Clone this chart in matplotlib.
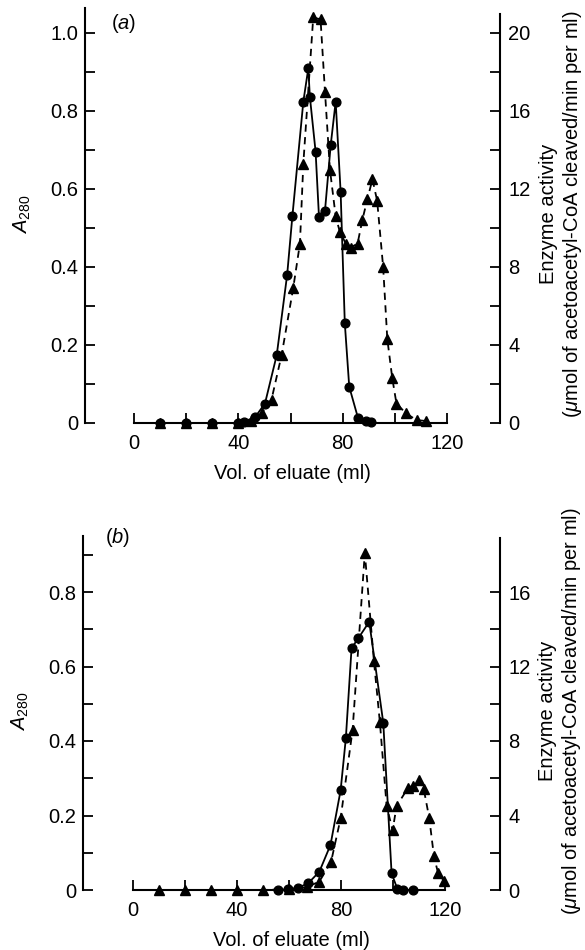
import numpy as np
import matplotlib
matplotlib.use("Agg")
import matplotlib.pyplot as plt

plt.rcParams['font.family'] = ['Liberation Sans', 'DejaVu Sans']
plt.rcParams['mathtext.fontset'] = 'custom'
plt.rcParams['mathtext.rm'] = 'Liberation Sans'
plt.rcParams['mathtext.it'] = 'Liberation Sans:italic'

FS = 14.5

# panel (a): A280 (circles, solid)
a_circ_x = [10, 20, 30, 40, 42, 46.4, 50.2, 54.7, 58.7, 60.7, 64.9, 66.8, 67.4, 69.6, 70.9,
            73.2, 75.4, 77.3, 79.2, 80.8, 82.5, 85.9, 88.9, 91]
a_circ_y = [0.0, 0.0, 0.0, 0.0, 0.003, 0.015, 0.05, 0.174, 0.38, 0.53, 0.824, 0.909, 0.837,
            0.696, 0.529, 0.544, 0.713, 0.824, 0.593, 0.256, 0.093, 0.012, 0.004, 0.003]
# panel (a): enzyme activity (triangles, dashed)
a_tri_x = [10, 20, 30, 40, 45, 48.9, 52.7, 56.6, 61.0, 63.6, 64.9, 68.7, 71.5, 73.2, 75.1,
           77.3, 78.9, 81.2, 83.0, 85.7, 87.5, 89.5, 91.4, 93.2, 95.5, 97.1, 99.0, 100.6,
           104.2, 108.3, 112.1]
a_tri_y = [0.0, 0.0, 0.0, 0.0, 0.1, 0.5, 1.2, 3.5, 6.9, 9.2, 13.3, 20.8, 20.7, 17.0, 13.0,
           10.6, 9.8, 9.2, 9.0, 9.2, 10.4, 11.5, 12.5, 11.4, 8.0, 4.3, 2.3, 1.0, 0.5, 0.15, 0.1]

# panel (b)
b_circ_x = [55.8, 59.6, 63.5, 67.4, 71.7, 76.0, 79.9, 81.9, 84.1, 86.7, 90.9, 96.3, 99.5,
            101.7, 104, 107.6]
b_circ_y = [0.0, 0.002, 0.006, 0.018, 0.049, 0.121, 0.268, 0.407, 0.649, 0.676, 0.720,
            0.449, 0.045, 0.003, 0.0, 0.0]
b_tri_x = [10, 20, 30, 40, 50, 60, 66.8, 71.7, 76.2, 79.9, 84.5, 89.2, 92.7, 95.0, 97.6,
           99.9, 101.4, 105.9, 107.8, 110, 111.9, 114, 115.8, 117.4, 119.6]
b_tri_y = [0.0, 0.0, 0.0, 0.0, 0.0, 0.05, 0.15, 0.45, 1.5, 3.85, 8.6, 18.1, 12.3, 9.0, 4.5,
           3.2, 4.5, 5.5, 5.6, 5.9, 5.4, 3.85, 1.8, 0.9, 0.5]

xlabel = "Vol. of eluate (ml)"
rlabel1 = "Enzyme activity"
rlabel2 = r"($\mu$mol of acetoacetyl-CoA cleaved/min per ml)"

fig = plt.figure(figsize=(5.85, 9.5), dpi=100)


def panel(rect, xlim, ylim, ylim2, lbound, rbound, lticks, lmajor, rmajor, tag, tagpos,
          cx, cy, tx, ty, rl_x):
    ax = fig.add_axes(rect)
    ax.plot(cx, cy, '-', color='black', lw=1.3, marker='o', ms=6.3, clip_on=False, zorder=3)
    ax.set_xlim(*xlim)
    ax.set_ylim(*ylim)
    ax2 = ax.twinx()
    ax2.plot(tx, ty, '--', color='black', lw=1.3, marker='^', ms=6.8, dashes=(4, 3),
             clip_on=False, zorder=3)
    ax2.set_ylim(*ylim2)

    for s in ['top', 'right']:
        ax.spines[s].set_visible(False)
    for s in ['top', 'left', 'bottom']:
        ax2.spines[s].set_visible(False)
    ax.spines['bottom'].set_bounds(0, 120)
    ax.spines['left'].set_bounds(0, lbound)
    ax2.spines['right'].set_bounds(0, rbound)
    for sp in [ax.spines['bottom'], ax.spines['left'], ax2.spines['right']]:
        sp.set_linewidth(1.5)

    ax.set_xticks([0, 40, 80, 120])
    ax.set_xticks([20, 60, 100], minor=True)
    ax.set_yticks(lticks, minor=True)
    ax.set_yticks(lmajor)
    ax.set_yticklabels(['0' if v == 0 else f"{v:.1f}" for v in lmajor])
    ax2.set_yticks(rmajor)
    ax2.set_yticks([v for v in range(2, int(rbound), 4)], minor=True)
    ax.tick_params(axis='x', which='both', direction='in', length=7, width=1.3,
                   labelsize=FS, pad=8)
    ax.tick_params(axis='y', which='both', direction='in', length=7, width=1.3,
                   labelsize=FS, pad=5)
    ax2.tick_params(axis='y', which='both', direction='in', length=7, width=1.3,
                    labelsize=FS, pad=6)

    ax.set_xlabel(xlabel, fontsize=FS, labelpad=8)
    ax.set_ylabel(r"$A_{280}$", fontsize=FS)
    ax.yaxis.set_label_coords(-0.125, 0.5)
    ax.text(tagpos[0], tagpos[1], tag, transform=ax.transAxes, fontsize=FS,
            ha='center', va='center')
    ax.text(rl_x[0], 0.5, rlabel1, transform=ax.transAxes, rotation=90, fontsize=FS,
            ha='center', va='center')
    ax.text(rl_x[1], 0.5, rlabel2, transform=ax.transAxes, rotation=90, fontsize=FS,
            ha='center', va='center')
    return ax, ax2


panel([85 / 585, 1 - 423 / 950, 415 / 585, (423 - 5.7) / 950],
      (-18.8, 140.3), (0, 1.07), (0, 21.4), 1.064, 21.0,
      np.arange(0, 1.01, 0.1), [0, 0.2, 0.4, 0.6, 0.8, 1.0], [0, 4, 8, 12, 16, 20],
      r"($\mathit{a}$)", (0.092, 0.958),
      a_circ_x, a_circ_y, a_tri_x, a_tri_y, (1.118, 1.174))

panel([83 / 585, 1 - 890 / 950, 417 / 585, 357.6 / 950],
      (-19.2, 141.2), (0, 0.96), (0, 19.2), 0.95, 18.9,
      np.arange(0, 0.91, 0.1), [0, 0.2, 0.4, 0.6, 0.8], [0, 4, 8, 12, 16],
      r"($\mathit{b}$)", (0.082, 0.987),
      b_circ_x, b_circ_y, b_tri_x, b_tri_y, (1.113, 1.172))

fig.savefig("out.png", dpi=100)
